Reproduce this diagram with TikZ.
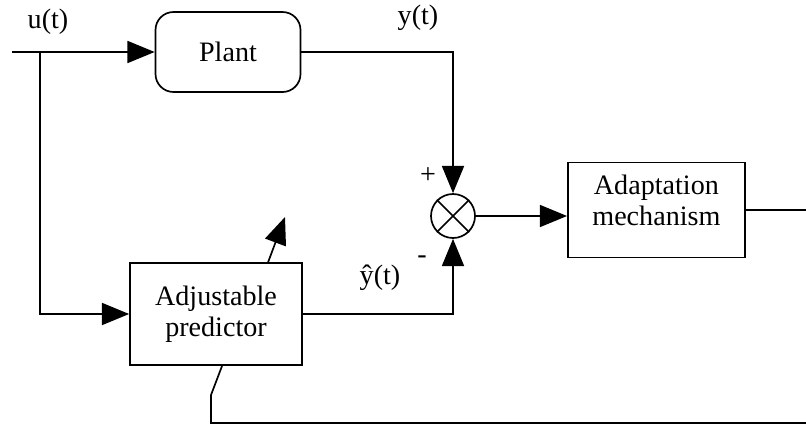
\documentclass[tikz,border=0pt]{standalone}
\usepackage{fontspec}
\setmainfont{Liberation Serif}
\usetikzlibrary{shapes, arrows.meta, positioning, calc}

\begin{document}
\begin{tikzpicture}[
    block/.style={rectangle, draw, line width=1.2pt, align=center, font=\fontsize{20}{22}\selectfont},
    summer/.style={circle, draw, line width=1.2pt, minimum size=1.1cm, inner sep=0pt},
    lbl/.style={font=\fontsize{20}{22}\selectfont},
    wire/.style={line width=1.2pt},
    arrow/.style={line width=1.2pt,-{Triangle[length=0.68cm,width=0.55cm]}}]

    \useasboundingbox (0,0) rectangle (20.15,-10.65);

    \node [block, rounded corners=0.45cm, minimum width=3.625cm, minimum height=2cm] (plant) at (5.7,-1.3) {Plant};
    \node [block, minimum width=4.425cm, minimum height=2.375cm] (adapt) at (16.41,-5.25) {Adaptation\\mechanism\\[-8pt]};
    \node [block, minimum width=4.3cm, minimum height=2.55cm] (pred) at (5.4,-7.85) {Adjustable\\predictor};
    \node [summer] (sum) at (11.325,-5.4) {};
    \draw [wire] (sum.north west) -- (sum.south east) (sum.north east) -- (sum.south west);

    \coordinate (in) at (0.3,-1.3);
    \coordinate (split) at (1.0,-1.3);
    \coordinate (edge) at (20.15,-10.575);
    \coordinate (kink) at (5.275,-9.875);
    \coordinate (tune) at (7.125,-5.425);

    \node [lbl] (u) at (1.2,-0.55) {u(t)};
    \node [lbl] (y) at (10.45,-0.45) {y(t)};
    \node [lbl] (yhat) at (9.5,-6.95) {\^{y}(t)};
    \node [lbl] (plus) at (10.7,-4.4) {+};
    \node [lbl] (minus) at (10.55,-6.5) {-};

    \draw [wire] (in) -- (split);
    \draw [arrow] (split) -- (plant.west);
    \draw [arrow] (split) |- (pred.west);
    \draw [arrow] (plant.east) -| (sum.north);
    \draw [arrow] (pred.east) -| (sum.south);
    \draw [arrow] (sum.east) -- (sum.east -| adapt.west);
    \draw [wire] (adapt.east) -- (adapt.east -| edge);
    \draw [wire] (edge) -| (kink) -- ($(pred.south west)!0.535!(pred.south east)$);
    \draw [arrow] ($(pred.north west)!0.8!(pred.north east)$) -- (tune);
\end{tikzpicture}
\end{document}
